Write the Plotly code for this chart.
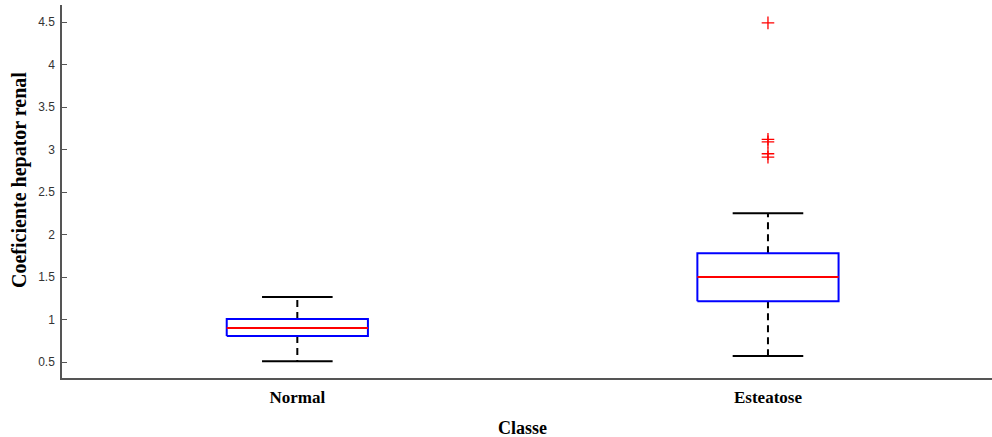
import plotly.graph_objects as go

categories = ["Normal", "Esteatose"]
positions = [1, 2]
lower_whisker = [0.51, 0.57]
q1 = [0.805, 1.215]
median = [0.90, 1.50]
q3 = [1.005, 1.78]
upper_whisker = [1.265, 2.25]
outlier_x = [2, 2, 2, 2, 2]
outlier_y = [4.49, 3.12, 3.09, 2.95, 2.91]
y_ticks = [0.5, 1, 1.5, 2, 2.5, 3, 3.5, 4, 4.5]
y_tick_labels = ["0.5", "1", "1.5", "2", "2.5", "3", "3.5", "4", "4.5"]

box_half = 0.15
cap_half = 0.075

fig = go.Figure()

for p, lw, a, m, b, uw in zip(positions, lower_whisker, q1, median, q3, upper_whisker):
    fig.add_trace(go.Scatter(x=[p, p, None, p, p], y=[b, uw, None, a, lw], mode="lines",
                             line=dict(color="black", width=2, dash="7px,5px"),
                             hoverinfo="skip", showlegend=False))
    fig.add_trace(go.Scatter(x=[p - cap_half, p + cap_half, None, p - cap_half, p + cap_half],
                             y=[uw, uw, None, lw, lw], mode="lines",
                             line=dict(color="black", width=2),
                             hoverinfo="skip", showlegend=False))
    fig.add_trace(go.Scatter(x=[p - box_half, p + box_half, p + box_half, p - box_half, p - box_half],
                             y=[a, a, b, b, a], mode="lines",
                             line=dict(color="blue", width=2),
                             hoverinfo="skip", showlegend=False))
    fig.add_trace(go.Scatter(x=[p - box_half, p + box_half], y=[m, m], mode="lines",
                             line=dict(color="red", width=2),
                             hoverinfo="skip", showlegend=False))

fig.add_trace(go.Scatter(x=outlier_x, y=outlier_y, mode="markers",
                         marker=dict(symbol="cross-thin", size=9, line=dict(color="red", width=1.3)),
                         hoverinfo="skip", showlegend=False))

plot_w = 992 - 62
plot_h = 437 - 5 - 59

fig.update_layout(
    width=992, height=437,
    margin=dict(l=62, r=0, t=5, b=59),
    plot_bgcolor="white", paper_bgcolor="white",
    xaxis=dict(range=[0.5, 2.476], tickvals=positions,
               ticktext=["<b>%s</b>" % c for c in categories],
               showgrid=False, zeroline=False, showline=True, linecolor="#555555", linewidth=1.5,
               ticks="", tickfont=dict(family="Liberation Serif", size=17, color="black"),
               ticklabelstandoff=3),
    yaxis=dict(range=[0.312, 4.70], tickvals=y_ticks, ticktext=y_tick_labels,
               showgrid=False, zeroline=False, showline=True, linecolor="#555555", linewidth=1.5,
               ticks="inside", ticklen=5, tickcolor="#555555", ticklabelstandoff=3,
               tickfont=dict(family="Liberation Sans", size=12, color="#333333")),
    annotations=[
        dict(text="<b>Coeficiente hepator renal</b>", x=(19 - 62) / plot_w, y=(378 - 180) / plot_h,
             xref="paper", yref="paper", showarrow=False, textangle=-90,
             font=dict(family="Liberation Serif", size=20, color="black"),
             xanchor="center", yanchor="middle"),
        dict(text="<b>Classe</b>", x=(522 - 62) / plot_w, y=-(428 - 378) / plot_h,
             xref="paper", yref="paper", showarrow=False,
             font=dict(family="Liberation Serif", size=18, color="black"),
             xanchor="center", yanchor="middle"),
    ],
)

fig.write_html("out.html", config={"displayModeBar": False},
               post_script="document.body.style.margin='0';document.body.style.padding='0';")
